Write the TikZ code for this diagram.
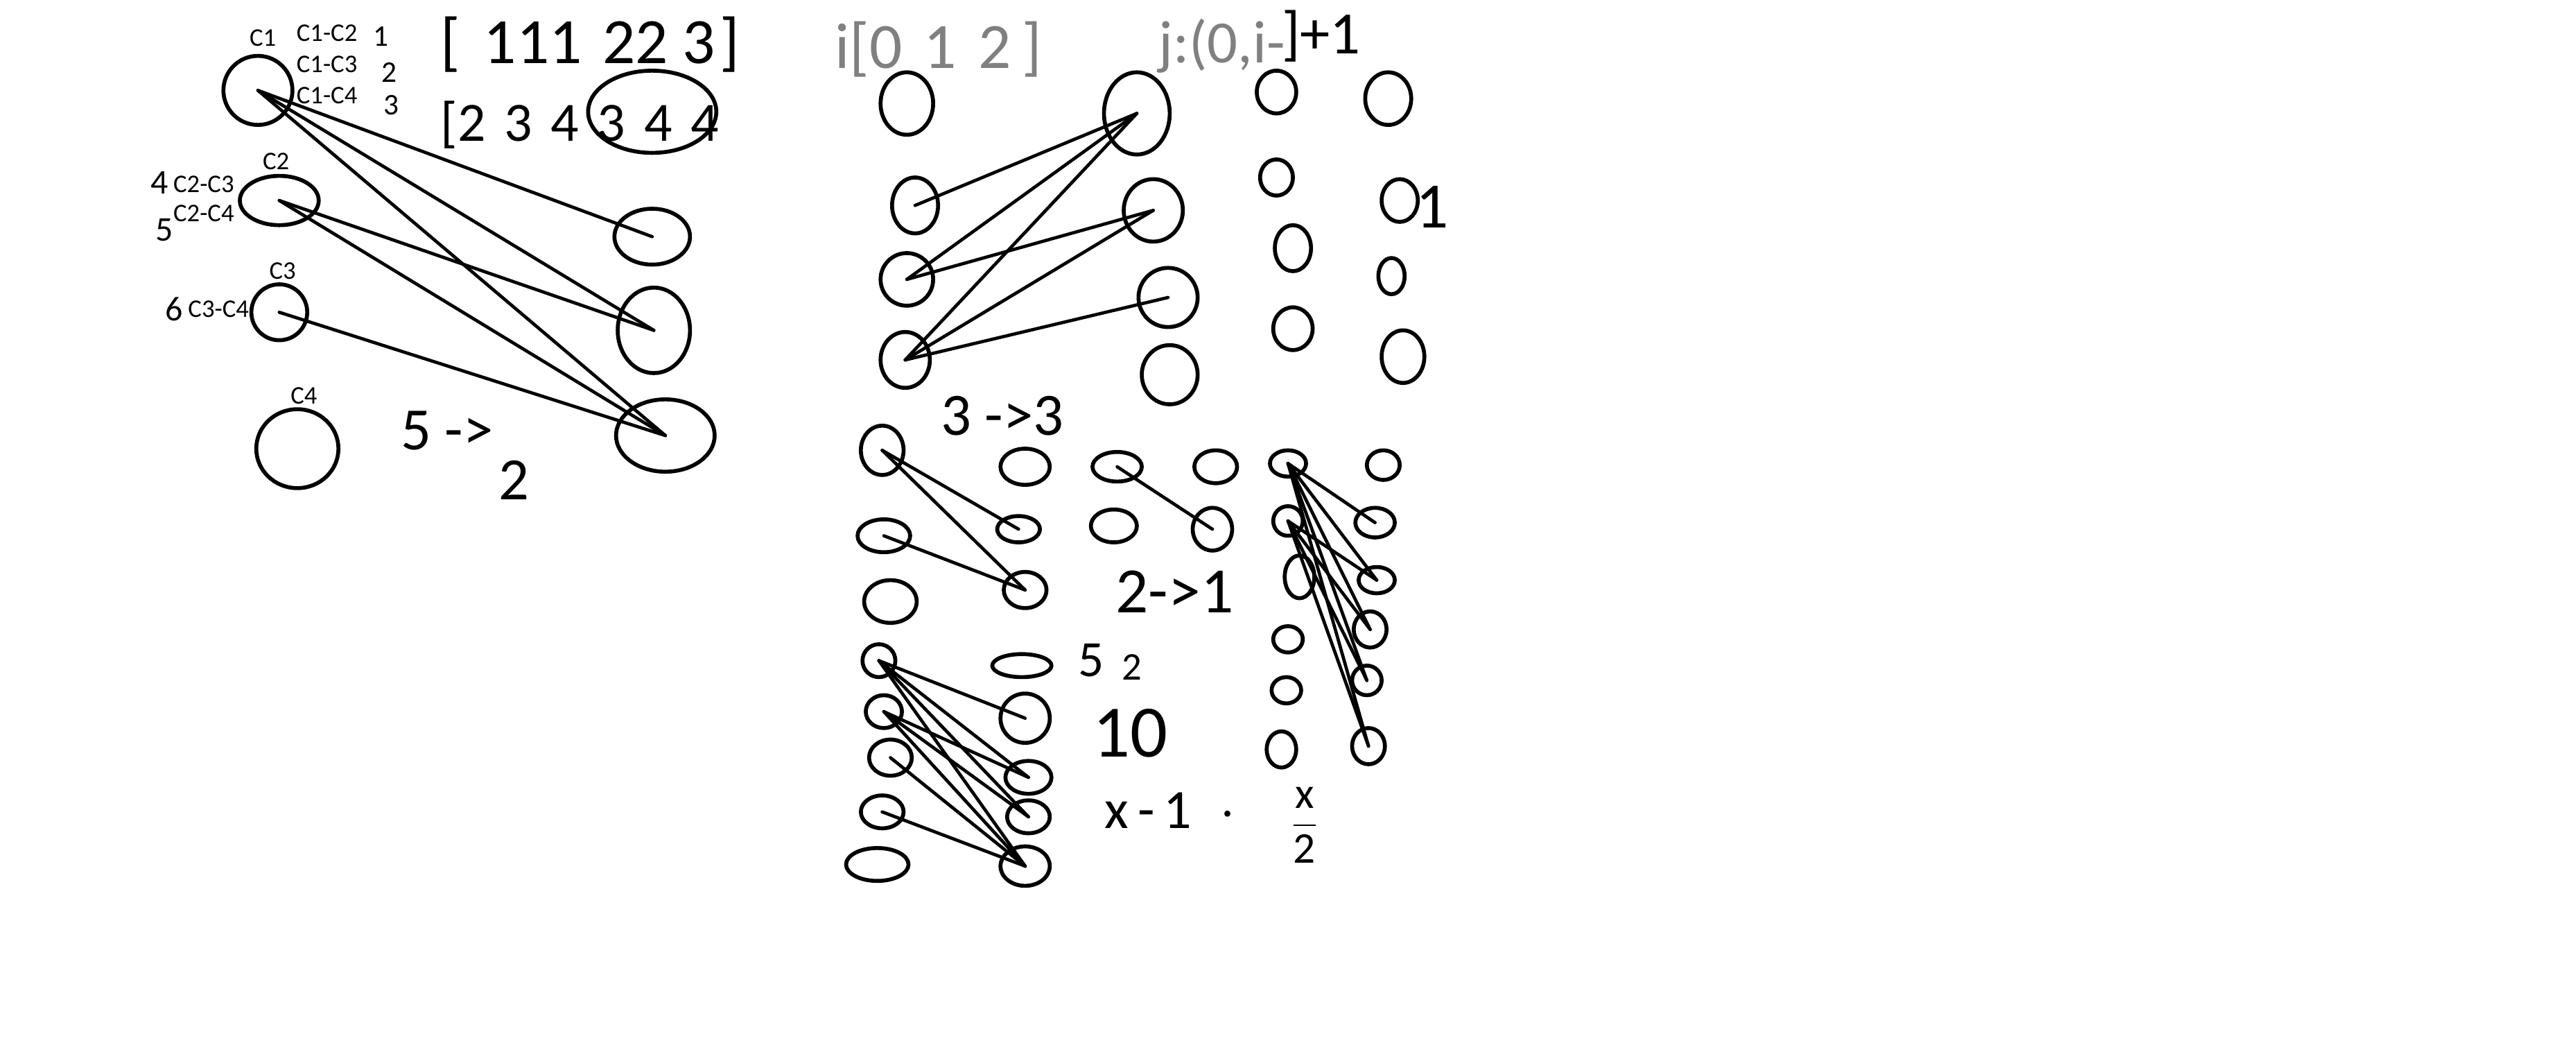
\documentclass[tikz,border=0pt]{standalone}
\usepackage{fontspec}
\setmainfont{Carlito}
\usetikzlibrary{shapes.geometric}

\begin{document}
\begin{tikzpicture}[x=0.025cm, y=-0.025cm,
  blob/.style={draw, ellipse, line width=1.7pt, inner sep=0pt, outer sep=0pt},
  sz/.style 2 args={minimum width=#1*0.05cm, minimum height=#2*0.05cm},
  wire/.style={line width=1.4pt, line cap=round},
  lbl/.style={font=\fontsize{11}{12}\selectfont, inner sep=0pt},
  hand/.style={font=\fontsize{#1}{#1}\selectfont, inner sep=0pt}]
  \useasboundingbox (0,0) rectangle (1568,640);

  % pairs of clusters
  \foreach \n/\x/\y/\a/\b in {c1/157/55/21/21, c2/170/122/24/15, c3/170/190/17/17, c4/181/273/25/24,
      big/397/68/39/25, r1/397/144/23/17, r2/398/201/22/26, r3/405/265/30/22}
    \node[blob, sz={\a}{\b}] (\n) at (\x,\y) {};
  \foreach \s/\t in {c1/r1, c1/r2, c1/r3, c2/r2, c2/r3, c3/r3}
    \draw[wire] (\s.center) -- (\t.center);
  \node[lbl] (lc1) at (160,23) {C1};
  \node[lbl] (lc2) at (168,98) {C2};
  \node[lbl] (lc3) at (172,165) {C3};
  \node[lbl] (lc4) at (185,241) {C4};
  \node[lbl] (p12) at (199,20) {C1-C2};
  \node[lbl] (p13) at (199,39) {C1-C3};
  \node[lbl] (p14) at (199,58) {C1-C4};
  \node[lbl] (p23) at (124,112) {C2-C3};
  \node[lbl] (p24) at (124,130) {C2-C4};
  \node[lbl] (p34) at (133,188) {C3-C4};
  \node[hand=13] (k1) at (232,22) {1};
  \node[hand=13] (k2) at (237,44) {2};
  \node[hand=13] (k3) at (238,64) {3};
  \node[hand=15] (k4) at (97,111) {4};
  \node[hand=15] (k5) at (100,140) {5};
  \node[hand=15] (k6) at (106,188) {6};
  \node[hand=28, anchor=west] (arri) at (268,27) {[\hspace{10pt}111\hspace{9pt}22\hspace{6pt}3\hspace{2pt}]};
  \node[hand=24, anchor=west] (arrj) at (268,76) {[2\,\,3\,\,4\,\,3\,\,4\,\,4};
  \node[hand=26] (five) at (272,262) {5 ->};
  \node[hand=26] (two) at (313,292) {2};

  % loops i and j
  \node[hand=28, text=gray, anchor=west] (ii) at (508,30) {i[0\,\,1\,\,2\,]};
  \node[hand=26, text=gray, anchor=west] (jj) at (705,28) {j:(0,i-};
  \node[hand=26, anchor=west] (jj1) at (780,22) {]+1};
  \foreach \n/\x/\y/\a/\b in {a1/552/63/16/19, a2/557/125/14/17, a3/552/170/16/16, a4/551/219/15/17,
      b1/692/69/20/25, b2/702/128/18/19, b3/711/181/18/18, b4/712/228/17/18}
    \node[blob, sz={\a}{\b}] (\n) at (\x,\y) {};
  \foreach \s/\t in {a2/b1, a3/b1, a3/b2, a4/b1, a4/b2, a4/b3}
    \draw[wire] (\s.center) -- (\t.center);
  \foreach \n/\x/\y/\a/\b in {d1/777/56/12/13, d2/777/108/10/11, d3/787/151/11/14, d4/787/200/12/13,
      e1/845/60/14/16, e2/852/122/11/13, e3/847/168/8/11, e4/854/217/13/16}
    \node[blob, sz={\a}{\b}] (\n) at (\x,\y) {};
  \node[hand=28] (one) at (872,126) {1};

  % 3 -> 3
  \node[hand=26] (t33) at (610,253) {3 ->3};
  \foreach \n/\x/\y/\a/\b in {f1/537/274/13/15, f2/538/326/16/10, f3/542/366/16/13,
      g1/624/284/15/11, g2/620/322/13/8, g3/624/359/13/11}
    \node[blob, sz={\a}{\b}] (\n) at (\x,\y) {};
  \foreach \s/\t in {f1/g2, f1/g3, f2/g3}
    \draw[wire] (\s.center) -- (\t.center);

  % 2 -> 1
  \foreach \n/\x/\y/\a/\b in {h1/680/284/15/9, h2/678/320/14/10, u1/740/284/13/10, u2/738/322/12/13}
    \node[blob, sz={\a}{\b}] (\n) at (\x,\y) {};
  \draw[wire] (h1.center) -- (u2.center);
  \node[hand=28] (t21) at (715,360) {2->1};

  % six on the right
  \foreach \n/\x/\y/\a/\b in {m1/784/282/11/8, m2/784/317/9/9, m3/791/351/9/13, m4/784/389/9/8,
      m5/783/420/9/8, m6/780/456/9/11, n1/842/283/10/9, n2/837/318/12/9, n3/838/353/11/8,
      n4/834/383/10/11, n5/832/414/9/9, n6/833/454/10/11}
    \node[blob, sz={\a}{\b}] (\n) at (\x,\y) {};
  \foreach \s/\t in {m1/n2, m1/n3, m1/n4, m1/n5, m1/n6, m2/n3, m2/n4, m2/n5, m2/n6}
    \draw[wire] (\s.center) -- (\t.center);

  % five on the left
  \foreach \n/\x/\y/\a/\b in {v1/535/402/10/10, v2/538/433/11/10, v3/542/461/13/11, v4/537/494/13/10,
      v5/534/526/19/10, w1/622/405/18/7, w2/624/437/15/15, w3/626/473/14/10, w4/626/497/13/10,
      w5/624/527/15/12}
    \node[blob, sz={\a}{\b}] (\n) at (\x,\y) {};
  \foreach \s/\t in {v1/w2, v1/w3, v1/w4, v1/w5, v2/w3, v2/w4, v2/w5, v3/w5, v4/w5}
    \draw[wire] (\s.center) -- (\t.center);
  \node[hand=22] (n5) at (664,402) {5};
  \node[hand=17] (n2) at (689,406) {2};
  \node[hand=32] (ten) at (688,446) {10};
  \node[hand=24, anchor=west] (form) at (672,493) {x\,-\,1\,\,\,$\cdot$};
  \node[hand=19] (frac) at (794,502) {$\displaystyle\frac{\mathrm{x}}{\mathrm{2}}$};
\end{tikzpicture}
\end{document}
